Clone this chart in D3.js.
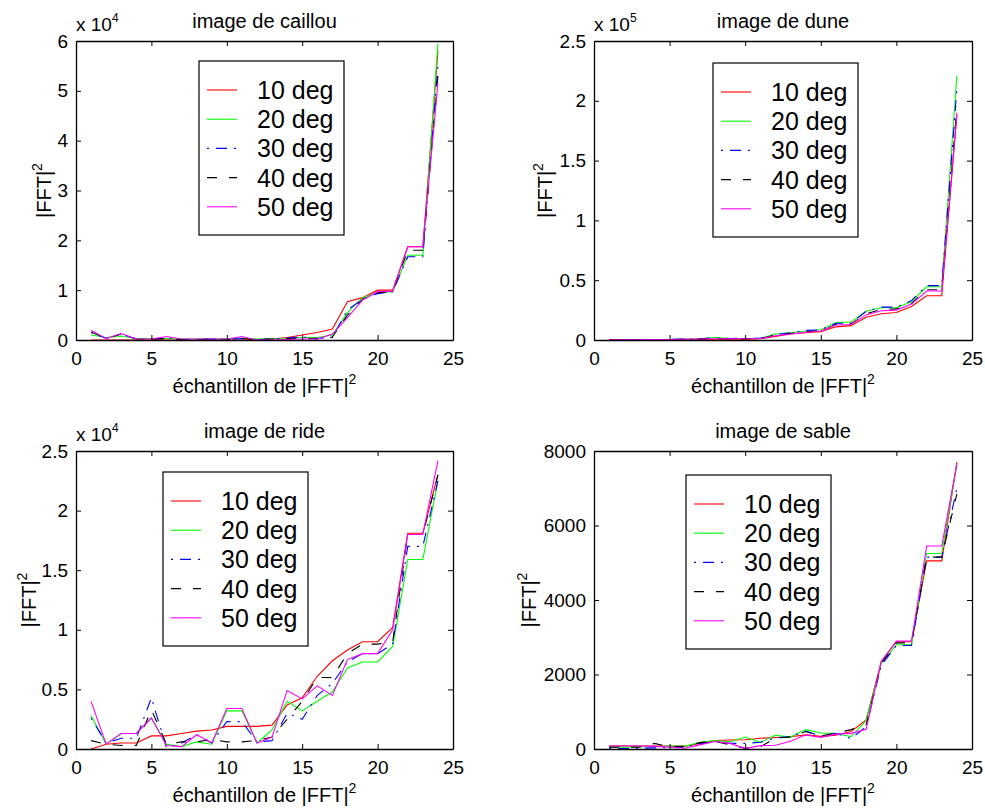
<!DOCTYPE html>
<html>
<head>
<meta charset="utf-8">
<script src="https://cdn.jsdelivr.net/npm/d3@7"></script>
<style>
  body { margin: 0; background: #fff; }
  text { font-family: "Liberation Sans", Arial, Helvetica, sans-serif; fill: #000; }
</style>
</head>
<body>
<div id="wrapper"></div>
<script>
// sample index on the x axis
const samples = [1, 2, 3, 4, 5, 6, 7, 8, 9, 10, 11, 12, 13, 14, 15, 16, 17, 18, 19, 20, 21, 22, 23, 24];
const legendLabels = ["10 deg", "20 deg", "30 deg", "40 deg", "50 deg"];
const xTicks = [0, 5, 10, 15, 20, 25];

// image de caillou  (values x 10^4)
const caillou10 = [0, 0, 0, 0, 0, 0, 0, 0, 0, 0, 0, 0.01, 0.02, 0.05, 0.1, 0.15, 0.22, 0.77, 0.85, 1.0, 1.0, 1.87, 1.87, 5.8];
const caillou20 = [0.1, 0.05, 0.08, 0.03, 0.03, 0.03, 0.02, 0.02, 0.02, 0.02, 0.04, 0.02, 0.02, 0.03, 0.05, 0.05, 0.1, 0.55, 0.85, 0.95, 0.97, 1.7, 1.7, 5.95];
const caillou30 = [0.15, 0.03, 0.12, 0.02, 0.02, 0.04, 0.01, 0.01, 0.02, 0.01, 0.03, 0.01, 0.02, 0.04, 0.06, 0.03, 0.05, 0.6, 0.82, 0.93, 0.97, 1.67, 1.67, 5.5];
const caillou40 = [0.16, 0.03, 0.12, 0.02, 0.01, 0.03, 0.01, 0.01, 0.02, 0.01, 0.03, 0.01, 0.02, 0.03, 0.04, 0.02, 0.06, 0.5, 0.82, 0.95, 0.97, 1.8, 1.8, 5.3];
const caillou50 = [0.19, 0.03, 0.13, 0.02, 0.02, 0.07, 0.02, 0.02, 0.02, 0.02, 0.07, 0, 0, 0.01, 0.02, 0.02, 0.12, 0.45, 0.8, 0.97, 0.98, 1.87, 1.87, 5.15];
const caillouTicks = [0, 1, 2, 3, 4, 5, 6];

// image de dune  (values x 10^5)
const dune10 = [0, 0, 0, 0, 0, 0.002, 0.004, 0.006, 0.008, 0.005, 0.01, 0.03, 0.05, 0.06, 0.07, 0.11, 0.12, 0.19, 0.22, 0.23, 0.28, 0.37, 0.37, 1.88];
const dune20 = [0.002, 0.002, 0.002, 0.003, 0.004, 0.008, 0.01, 0.02, 0.012, 0.012, 0.015, 0.05, 0.06, 0.075, 0.085, 0.145, 0.15, 0.24, 0.27, 0.27, 0.32, 0.445, 0.445, 2.21];
const dune30 = [0.003, 0.002, 0.003, 0.004, 0.005, 0.008, 0.01, 0.018, 0.012, 0.015, 0.015, 0.045, 0.06, 0.08, 0.085, 0.14, 0.14, 0.24, 0.275, 0.275, 0.33, 0.455, 0.455, 2.1];
const dune40 = [0.002, 0.002, 0.002, 0.003, 0.004, 0.006, 0.008, 0.012, 0.01, 0.012, 0.012, 0.04, 0.055, 0.07, 0.075, 0.13, 0.135, 0.22, 0.255, 0.26, 0.305, 0.42, 0.42, 1.95];
const dune50 = [0.002, 0.002, 0.002, 0.003, 0.004, 0.007, 0.008, 0.01, 0.01, 0.01, 0.012, 0.035, 0.05, 0.065, 0.075, 0.125, 0.13, 0.21, 0.245, 0.25, 0.3, 0.41, 0.41, 1.9];
const duneTicks = [0, 0.5, 1, 1.5, 2, 2.5];

// image de ride  (values x 10^4)
const ride10 = [0, 0.04, 0.05, 0.05, 0.11, 0.11, 0.13, 0.15, 0.16, 0.19, 0.19, 0.19, 0.2, 0.37, 0.43, 0.61, 0.74, 0.83, 0.9, 0.9, 1.02, 1.81, 1.81, 2.3];
const ride20 = [0.28, 0.04, 0.13, 0.13, 0.26, 0.04, 0.02, 0.06, 0.04, 0.32, 0.32, 0.05, 0.16, 0.4, 0.32, 0.4, 0.48, 0.68, 0.73, 0.73, 0.86, 1.59, 1.59, 2.25];
const ride30 = [0.26, 0.05, 0.09, 0.09, 0.43, 0.01, 0.05, 0.12, 0.05, 0.23, 0.23, 0.06, 0.07, 0.3, 0.25, 0.45, 0.55, 0.73, 0.8, 0.8, 0.88, 1.7, 1.7, 2.25];
const ride40 = [0.07, 0.04, 0.03, 0.03, 0.33, 0.04, 0.06, 0.06, 0.08, 0.06, 0.06, 0.07, 0.1, 0.25, 0.4, 0.6, 0.6, 0.8, 0.88, 0.88, 0.9, 1.8, 1.8, 2.3];
const ride50 = [0.4, 0.04, 0.13, 0.13, 0.26, 0.03, 0.02, 0.12, 0.05, 0.34, 0.34, 0.05, 0.1, 0.49, 0.42, 0.53, 0.45, 0.75, 0.8, 0.8, 1.0, 1.8, 1.8, 2.42];
const rideTicks = [0, 0.5, 1, 1.5, 2, 2.5];

// image de sable
const sable10 = [80, 80, 80, 80, 80, 70, 150, 230, 240, 250, 290, 310, 330, 380, 340, 370, 470, 780, 2350, 2880, 2880, 5050, 5050, 7700];
const sable20 = [50, 50, 60, 60, 80, 70, 180, 230, 190, 320, 180, 370, 320, 520, 430, 420, 330, 760, 2300, 2800, 2800, 5250, 5250, 7650];
const sable30 = [10, 10, 20, 30, 40, 40, 140, 200, 150, 150, 180, 300, 330, 480, 350, 420, 280, 600, 2250, 2780, 2780, 5150, 5150, 7000];
const sable40 = [50, 50, 50, 150, 60, 70, 170, 210, 110, 20, 60, 290, 320, 470, 350, 430, 520, 650, 2300, 2850, 2850, 5150, 5150, 6850];
const sable50 = [80, 80, 80, 70, 50, 20, 110, 200, 150, 10, 90, 100, 210, 380, 310, 400, 420, 530, 2350, 2900, 2900, 5450, 5450, 7650];
const sableTicks = [0, 2000, 4000, 6000, 8000];

// line styles, one per angle (MATLAB defaults: r-, g-, b-., k--, m-)
const styles = [
  { color: "#ff0000", dash: null },
  { color: "#00ff00", dash: null },
  { color: "#0000ff", dash: "2,7,11,7" },
  { color: "#000000", dash: "10,12" },
  { color: "#ff00ff", dash: null },
];

const panels = [
  { title: "image de caillou", series: [caillou10, caillou20, caillou30, caillou40, caillou50],
    yTicks: caillouTicks, exponent: "4", box: { x: 76, y: 41, w: 377, h: 299 },
    legend: { dx: 123, dy: 20 }, yLabelDx: -25 },
  { title: "image de dune", series: [dune10, dune20, dune30, dune40, dune50],
    yTicks: duneTicks, exponent: "5", box: { x: 594, y: 41, w: 378, h: 299 },
    legend: { dx: 119, dy: 22 }, yLabelDx: -42 },
  { title: "image de ride", series: [ride10, ride20, ride30, ride40, ride50],
    yTicks: rideTicks, exponent: "4", box: { x: 76, y: 451, w: 377, h: 298 },
    legend: { dx: 87, dy: 21 }, yLabelDx: -40 },
  { title: "image de sable", series: [sable10, sable20, sable30, sable40, sable50],
    yTicks: sableTicks, exponent: null, box: { x: 594, y: 451, w: 378, h: 298 },
    legend: { dx: 92, dy: 24 }, yLabelDx: -58 },
];

const svg = d3.select("#wrapper")
  .append("svg")
  .attr("width", 985)
  .attr("height", 812);

panels.forEach((p) => {
  const b = p.box;
  const g = svg.append("g").attr("transform", `translate(${b.x},${b.y})`);

  const xScale = d3.scaleLinear().domain([0, 25]).range([0, b.w]);
  const yScale = d3.scaleLinear()
    .domain([0, d3.max(p.yTicks)])
    .range([b.h, 0]);

  // data lines
  const line = d3.line()
    .x((d, i) => xScale(samples[i]))
    .y((d) => yScale(d));

  p.series.forEach((values, i) => {
    g.append("path")
      .attr("d", line(values))
      .attr("fill", "none")
      .attr("stroke", styles[i].color)
      .attr("stroke-width", 1.1)
      .attr("stroke-dasharray", styles[i].dash);
  });

  // axes: ticks pointing inward on all four sides
  const fmt = d3.format("");
  const axes = [
    { gen: d3.axisBottom(xScale).tickValues(xTicks).tickFormat(fmt).tickPadding(12), t: `translate(0,${b.h})` },
    { gen: d3.axisTop(xScale).tickValues(xTicks).tickFormat(""), t: null },
    { gen: d3.axisLeft(yScale).tickValues(p.yTicks).tickFormat(fmt).tickPadding(8), t: null },
    { gen: d3.axisRight(yScale).tickValues(p.yTicks).tickFormat(""), t: `translate(${b.w},0)` },
  ];
  axes.forEach((a) => {
    const ax = g.append("g")
      .attr("transform", a.t)
      .call(a.gen.tickSizeInner(-5).tickSizeOuter(0));
    ax.select(".domain").attr("stroke", "#000").attr("stroke-width", 1.3);
    ax.selectAll(".tick line").attr("stroke", "#000");
    ax.selectAll(".tick text")
      .style("font-family", '"Liberation Sans", Arial, sans-serif')
      .style("font-size", "19px")
      .attr("fill", "#000");
  });

  // title
  g.append("text")
    .attr("x", b.w / 2)
    .attr("y", -13)
    .attr("text-anchor", "middle")
    .style("font-size", "20px")
    .text(p.title);

  // x label
  const xl = g.append("text")
    .attr("x", b.w / 2)
    .attr("y", b.h + 53)
    .attr("text-anchor", "middle")
    .style("font-size", "20px");
  xl.append("tspan").text("échantillon de |FFT|");
  xl.append("tspan").attr("dy", -9).style("font-size", "14px").text("2");

  // y label
  const yl = g.append("text")
    .attr("transform", `translate(${p.yLabelDx},${b.h / 2}) rotate(-90)`)
    .attr("text-anchor", "middle")
    .style("font-size", "20px");
  yl.append("tspan").text("|FFT|");
  yl.append("tspan").attr("dy", -9).style("font-size", "14px").text("2");

  // exponent label
  if (p.exponent) {
    const ex = g.append("text")
      .attr("x", 0)
      .attr("y", -10)
      .style("font-size", "19px");
    ex.append("tspan").text("x 10");
    ex.append("tspan").attr("dy", -9).style("font-size", "12px").text(p.exponent);
  }

  // legend
  const rowH = 29.2;
  const lg = g.append("g").attr("transform", `translate(${p.legend.dx},${p.legend.dy})`);
  lg.append("rect")
    .attr("width", 145)
    .attr("height", 174)
    .attr("fill", "#fff")
    .attr("stroke", "#000")
    .attr("stroke-width", 1.2);
  legendLabels.forEach((label, i) => {
    const cy = 29 + i * rowH;
    lg.append("line")
      .attr("x1", 8).attr("x2", 38)
      .attr("y1", cy).attr("y2", cy)
      .attr("stroke", styles[i].color)
      .attr("stroke-width", 1.1)
      .attr("stroke-dasharray", styles[i].dash);
    lg.append("text")
      .attr("x", 58)
      .attr("y", cy + 9)
      .style("font-size", "25px")
      .text(label);
  });
});
</script>
</body>
</html>
